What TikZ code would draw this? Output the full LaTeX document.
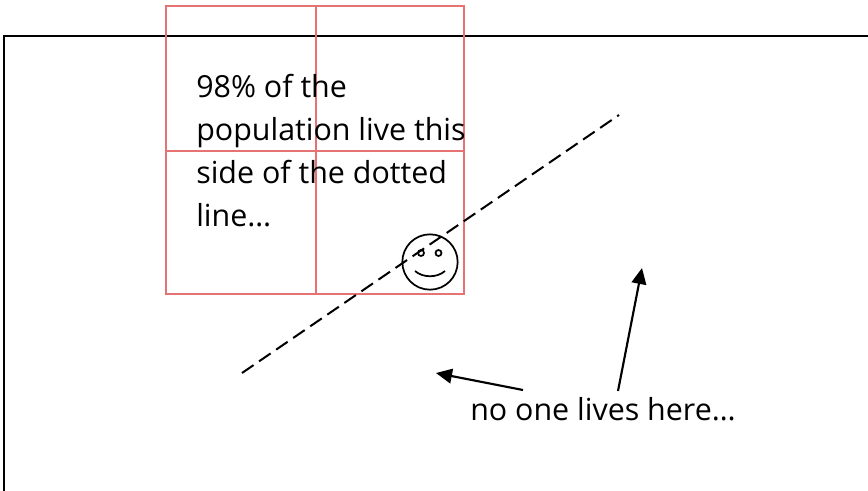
\documentclass[tikz,border=0pt]{standalone}
\usepackage{fontspec}
\setmainfont{Open Sans}
\usetikzlibrary{arrows.meta}
\definecolor{GridRed}{RGB}{229,115,115}
\tikzset{
  gridline/.style={draw=GridRed,line width=1.7pt},
  frameline/.style={draw=black,line width=1.6pt},
  divideline/.style={draw=black,line width=1.5pt,dash pattern=on 10.5pt off 5pt},
  facepart/.style={draw=black,line width=1.3pt},
  pointer/.style={-{Triangle[length=12pt,width=11pt]},draw=black,line width=1.6pt},
  bigtext/.style={font=\fontsize{22.8}{32.3}\selectfont,inner sep=0pt,anchor=north west,align=left}
}
\begin{document}
\begin{tikzpicture}[x=0.75pt,y=-0.75pt]
\useasboundingbox (0,0) rectangle (868,490);
\clip (0,0) rectangle (868,490);
\coordinate (lineA) at (242,373);
\coordinate (lineB) at (619,115);
\coordinate (tailA) at (523,390);
\coordinate (headA) at (436,373);
\coordinate (tailB) at (618,391);
\coordinate (headB) at (642,268);

\draw[frameline] (4,520) |- (900,36);
\draw[gridline] (166,6) rectangle (464,294);
\draw[gridline] (316,6) -- (316,294);
\draw[gridline] (166,151) -- (464,151);

\draw[divideline] (lineA) -- (lineB);

\node[circle,facepart,minimum size=41.5pt,inner sep=0pt] (face) at (430,262) {};
\node[circle,facepart,minimum size=4.5pt,inner sep=0pt] (eyeL) at (421,253) {};
\node[circle,facepart,minimum size=4.5pt,inner sep=0pt] (eyeR) at (438.5,253) {};
\draw[facepart] (415,271) .. controls (423,278) and (437,278) .. (445,271);

\node[bigtext] (note) at (196,73.5) {98\% of the\\population live this\\side of the dotted\\line\ldots};
\node[bigtext] (nobody) at (470,397.5) {no one lives here\ldots};

\draw[pointer] (tailA) -- (headA);
\draw[pointer] (tailB) -- (headB);
\end{tikzpicture}
\end{document}
